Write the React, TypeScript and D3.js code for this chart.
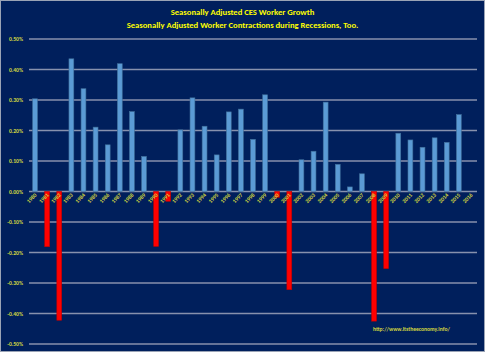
import * as d3 from 'd3'

const width = 485,
      height = 352,
      margin = { top: 39, right: 8, bottom: 8, left: 29 }

const years = d3.range(1980, 2017).map(String)
const growth = [
  0.304, -0.181, -0.422, 0.435, 0.337, 0.211, 0.153, 0.419, 0.262, 0.115,
  -0.18, -0.032, 0.202, 0.307, 0.214, 0.12, 0.261, 0.27, 0.171, 0.317,
  -0.019, -0.322, 0.104, 0.132, 0.293, 0.089, 0.015, 0.058, -0.425, -0.253,
  0.191, 0.169, 0.145, 0.176, 0.161, 0.252, null
]
const yTicks = [0.5, 0.4, 0.3, 0.2, 0.1, 0, -0.1, -0.2, -0.3, -0.4, -0.5]
const titleLines = [
  'Seasonally Adjusted CES Worker Growth',
  'Seasonally Adjusted Worker Contractions during Recessions, Too.'
]
const sourceNote = 'http://www.itstheeconomy.info/'

export default function App() {
  const x = d3.scaleBand()
    .domain(years)
    .range([margin.left, 477])
    .paddingInner(0.6)
    .paddingOuter(0.3)

  const y = d3.scaleLinear()
    .domain([-0.5, 0.5])
    .range([344, 39])

  const bw = x.bandwidth()
  const font = 'Calibri, Carlito, "Liberation Sans", Arial, sans-serif'

  return (
    <svg width={width} height={height} style={{ position: 'absolute', left: 0, top: 0, fontFamily: font }}>
      <rect x={0.5} y={0.5} width={width - 1} height={height - 1} fill='#001f5c' stroke='#9aa3b5' />

      {titleLines.map((t, i) => (
        <text key={t} x={width / 2} y={15 + i * 12.5} textAnchor='middle' fill='#ffff00'
          fontSize={8.6} fontWeight='bold'>{t}</text>
      ))}

      {/* grid + y labels */}
      {yTicks.map(t => (
        <g key={t}>
          <line x1={margin.left} x2={477} y1={y(t)} y2={y(t)} stroke='#8791ad' strokeWidth={1.3} />
          <text x={23} y={y(t) + 2} textAnchor='end' fill='#d4d640' fontSize={5.6} fontWeight='bold'>
            {t.toFixed(2) + '%'}
          </text>
        </g>
      ))}

      {/* bars */}
      {years.map((yr, i) => {
        const v = growth[i]
        if (v == null) return null
        const neg = v < 0
        return (
          <rect key={yr}
            x={x(yr)!} width={bw}
            y={neg ? y(0) : y(v)}
            height={Math.abs(y(v) - y(0))}
            fill={neg ? '#ff0000' : '#5b9bd5'}
            stroke={neg ? '#c00000' : '#41719c'}
            strokeWidth={0.6} />
        )
      })}

      {/* x labels */}
      {years.map(yr => {
        const cx = x(yr)! + bw / 2 + 2
        return (
          <text key={yr} transform={`translate(${cx},${y(0) + 4}) rotate(-45)`}
            textAnchor='end' fill='#d4d640' fontSize={5.6} fontWeight='bold'>{yr}</text>
        )
      })}

      <text x={373} y={331} fill='#d4d640' fontSize={5.6} fontWeight='bold'>{sourceNote}</text>
    </svg>
  )
}
